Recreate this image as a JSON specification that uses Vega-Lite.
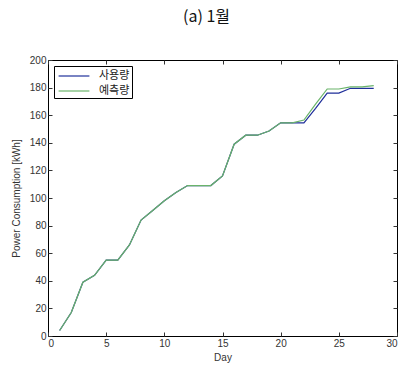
{
  "$schema": "https://vega.github.io/schema/vega-lite/v6.json",
  "width": 349,
  "height": 276,
  "autosize": "none",
  "padding": {"left": 48, "top": 60, "right": 5, "bottom": 32},
  "background": "white",
  "title": {"text": "(a) 1월", "fontSize": 16, "font": "Noto Sans CJK KR", "fontWeight": "normal", "anchor": "middle", "dx": -16, "offset": 30, "color": "#111"},
  "config": {
    "view": {"stroke": "black", "strokeWidth": 1},
    "axis": {"grid": false, "domain": false, "tickSize": -4, "tickColor": "#333", "labelFont": "Liberation Sans", "labelFontSize": 10, "labelColor": "#333", "titleFont": "Liberation Sans", "titleFontSize": 10, "titleFontWeight": "normal", "titleColor": "#333"}
  },
  "data": {"values": [
    {"day": 1, "value": 4, "series": "사용량"},
    {"day": 2, "value": 17, "series": "사용량"},
    {"day": 3, "value": 39, "series": "사용량"},
    {"day": 4, "value": 44, "series": "사용량"},
    {"day": 5, "value": 55, "series": "사용량"},
    {"day": 6, "value": 55, "series": "사용량"},
    {"day": 7, "value": 66, "series": "사용량"},
    {"day": 8, "value": 84, "series": "사용량"},
    {"day": 9, "value": 91, "series": "사용량"},
    {"day": 10, "value": 98, "series": "사용량"},
    {"day": 11, "value": 104, "series": "사용량"},
    {"day": 12, "value": 109, "series": "사용량"},
    {"day": 13, "value": 109, "series": "사용량"},
    {"day": 14, "value": 109, "series": "사용량"},
    {"day": 15, "value": 116, "series": "사용량"},
    {"day": 16, "value": 139, "series": "사용량"},
    {"day": 17, "value": 145.5, "series": "사용량"},
    {"day": 18, "value": 145.5, "series": "사용량"},
    {"day": 19, "value": 148.5, "series": "사용량"},
    {"day": 20, "value": 154.5, "series": "사용량"},
    {"day": 21, "value": 154.5, "series": "사용량"},
    {"day": 22, "value": 154.5, "series": "사용량"},
    {"day": 23, "value": 165, "series": "사용량"},
    {"day": 24, "value": 176, "series": "사용량"},
    {"day": 25, "value": 176, "series": "사용량"},
    {"day": 26, "value": 179.5, "series": "사용량"},
    {"day": 27, "value": 179.5, "series": "사용량"},
    {"day": 28, "value": 179.5, "series": "사용량"},
    {"day": 1, "value": 4, "series": "예측량"},
    {"day": 2, "value": 17, "series": "예측량"},
    {"day": 3, "value": 39, "series": "예측량"},
    {"day": 4, "value": 44, "series": "예측량"},
    {"day": 5, "value": 55, "series": "예측량"},
    {"day": 6, "value": 55, "series": "예측량"},
    {"day": 7, "value": 66, "series": "예측량"},
    {"day": 8, "value": 84, "series": "예측량"},
    {"day": 9, "value": 91, "series": "예측량"},
    {"day": 10, "value": 98, "series": "예측량"},
    {"day": 11, "value": 104, "series": "예측량"},
    {"day": 12, "value": 109, "series": "예측량"},
    {"day": 13, "value": 109, "series": "예측량"},
    {"day": 14, "value": 109, "series": "예측량"},
    {"day": 15, "value": 116, "series": "예측량"},
    {"day": 16, "value": 139, "series": "예측량"},
    {"day": 17, "value": 145.5, "series": "예측량"},
    {"day": 18, "value": 145.5, "series": "예측량"},
    {"day": 19, "value": 148.5, "series": "예측량"},
    {"day": 20, "value": 154.5, "series": "예측량"},
    {"day": 21, "value": 154.5, "series": "예측량"},
    {"day": 22, "value": 156.5, "series": "예측량"},
    {"day": 23, "value": 168, "series": "예측량"},
    {"day": 24, "value": 179, "series": "예측량"},
    {"day": 25, "value": 179, "series": "예측량"},
    {"day": 26, "value": 180.5, "series": "예측량"},
    {"day": 27, "value": 180.5, "series": "예측량"},
    {"day": 28, "value": 181.5, "series": "예측량"}
  ]},
  "layer": [
    {
      "mark": {"type": "line", "strokeWidth": 1.2},
      "encoding": {
        "x": {"field": "day", "type": "quantitative", "scale": {"domain": [0, 30], "nice": false}, "axis": {"orient": "bottom", "title": "Day", "values": [0, 5, 10, 15, 20, 25, 30], "labelPadding": 6, "titlePadding": 4}},
        "y": {"field": "value", "type": "quantitative", "scale": {"domain": [0, 200], "nice": false}, "axis": {"orient": "left", "title": "Power Consumption [kWh]", "values": [0, 20, 40, 60, 80, 100, 120, 140, 160, 180, 200], "labelPadding": 6, "titlePadding": 8}},
        "color": {"field": "series", "type": "nominal", "scale": {"domain": ["사용량", "예측량"], "range": ["#1f2f9a", "#6ab46a"]},
          "legend": {"title": null, "orient": "top-left", "offset": 6, "strokeColor": "black", "fillColor": "white", "padding": 2, "cornerRadius": 0, "symbolType": "M-2.2,0H2.2", "symbolSize": 196, "symbolOffset": 10, "symbolStrokeWidth": 1.2, "labelFont": "Noto Sans CJK KR", "labelFontSize": 11, "labelColor": "#222", "rowPadding": 2, "labelOffset": 17}}
      }
    },
    {
      "mark": {"type": "line", "opacity": 0},
      "encoding": {
        "x": {"field": "day", "type": "quantitative", "axis": {"orient": "top", "title": null, "labels": false, "values": [0, 5, 10, 15, 20, 25, 30]}},
        "y": {"field": "value", "type": "quantitative", "axis": {"orient": "right", "title": null, "labels": false, "values": [0, 20, 40, 60, 80, 100, 120, 140, 160, 180, 200]}}
      }
    }
  ],
  "resolve": {"axis": {"x": "independent", "y": "independent"}}
}
